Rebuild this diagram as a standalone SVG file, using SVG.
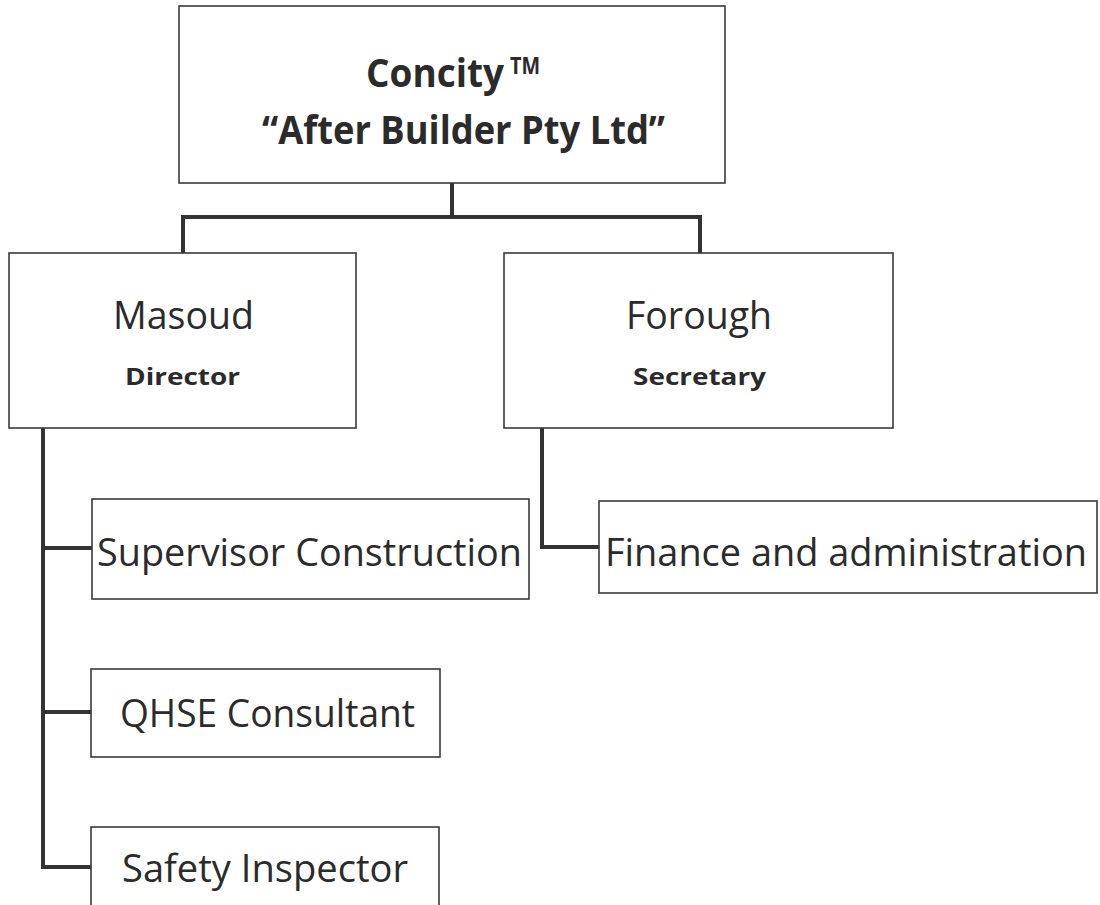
<svg xmlns="http://www.w3.org/2000/svg" width="1100" height="905" viewBox="0 0 1100 905">
<style>
.box{fill:#fff;stroke:#3a3a3a;stroke-width:1.6}
.con{fill:none;stroke:#333;stroke-width:4;stroke-linejoin:miter;stroke-linecap:square}
.t{font-family:"Open Sans","Noto Sans","Liberation Sans",sans-serif;fill:#2b2b2b}
.b{font-weight:bold}
.big{font-size:39px}
.sm{font-size:24px}
</style>
<rect width="1100" height="905" fill="#fff"/>
<g id="connectors">
<path class="con" d="M452,183 V217 M183,253 V217 H700 V253"/>
<path class="con" d="M43,428 V867 H92 M43,548 H92 M43,712 H92"/>
<path class="con" d="M542,428 V547 H599"/>
</g>
<g id="node-concity">
<rect class="box" x="179" y="6" width="546" height="177"/>
<text class="t b" x="366" y="87" font-size="39" textLength="138" lengthAdjust="spacingAndGlyphs">Concity</text>
<text class="t b" x="510" y="74" font-size="24" textLength="30" lengthAdjust="spacingAndGlyphs">TM</text>
<text class="t b" x="262" y="144" font-size="39" textLength="403" lengthAdjust="spacingAndGlyphs">“After Builder Pty Ltd”</text>
</g>
<g id="node-masoud">
<rect class="box" x="9" y="253" width="347" height="175"/>
<text class="t big" x="113" y="329" textLength="141" lengthAdjust="spacingAndGlyphs">Masoud</text>
<text class="t b sm" x="125" y="385" textLength="115" lengthAdjust="spacingAndGlyphs">Director</text>
</g>
<g id="node-forough">
<rect class="box" x="504" y="253" width="389" height="175"/>
<text class="t big" x="626" y="329" textLength="146" lengthAdjust="spacingAndGlyphs">Forough</text>
<text class="t b sm" x="633" y="385" textLength="133" lengthAdjust="spacingAndGlyphs">Secretary</text>
</g>
<g id="node-supervisor">
<rect class="box" x="92" y="499" width="437" height="100"/>
<text class="t big" x="97" y="566" textLength="425" lengthAdjust="spacingAndGlyphs">Supervisor Construction</text>
</g>
<g id="node-finance">
<rect class="box" x="599" y="501" width="498" height="92"/>
<text class="t big" x="605" y="566" textLength="482" lengthAdjust="spacingAndGlyphs">Finance and administration</text>
</g>
<g id="node-qhse">
<rect class="box" x="91" y="669" width="349" height="88"/>
<text class="t big" x="120" y="727" textLength="295" lengthAdjust="spacingAndGlyphs">QHSE Consultant</text>
</g>
<g id="node-safety">
<rect class="box" x="91" y="827" width="348" height="90"/>
<text class="t big" x="122" y="882" textLength="286" lengthAdjust="spacingAndGlyphs">Safety Inspector</text>
</g>
</svg>
